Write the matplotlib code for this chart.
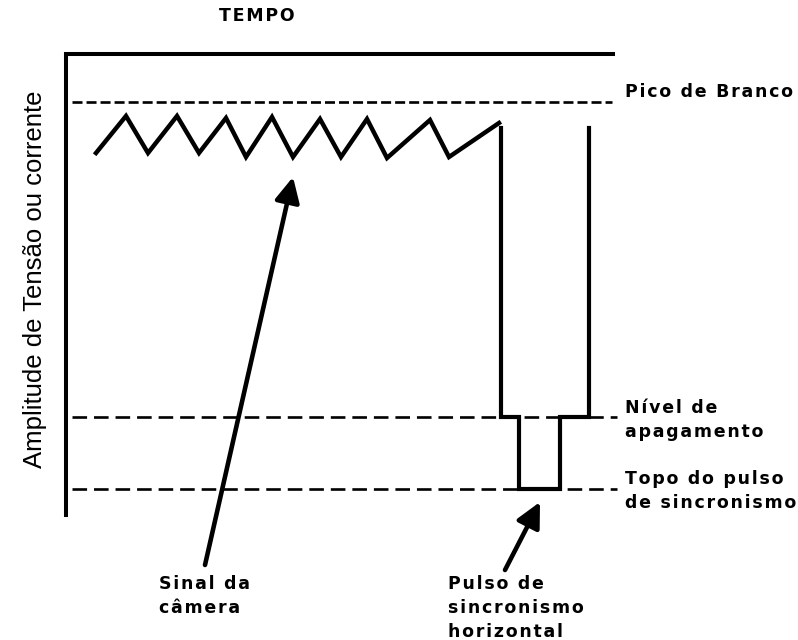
import matplotlib
matplotlib.use("Agg")
import matplotlib.pyplot as plt

# niveles (coordenadas de la imagen, y hacia abajo)
nivel_pico = 102
nivel_apagamento = 417
nivel_sincronismo = 489

# marco (eje de tiempo arriba, eje de amplitud a la izquierda)
marco_x = [613, 66, 66]
marco_y = [54, 54, 515]

# señal de la cámara (diente de sierra)
sinal_x = [96, 126, 148, 177, 199, 226, 246, 272, 293, 320, 341, 367, 387, 430, 449, 499]
sinal_y = [153, 116, 153, 116, 153, 118, 157, 117, 157, 119, 157, 119, 158, 120, 157, 123]

# pulso de sincronismo horizontal
pulso_x = [501, 501, 519, 519, 560, 560, 589, 589]
pulso_y = [128, 417, 417, 489, 489, 417, 417, 128]

# flechas: (cola, punta)
seta_sinal = ((205, 565), (293, 177))
seta_pulso = ((505, 570), (540, 502))


def espaciado(s):
    # el original tiene letras algo separadas: metemos un espacio "hair" entre letras
    return '\n'.join('\u200a'.join(linea) for linea in s.split('\n'))


fig = plt.figure(figsize=(7.98, 6.4), dpi=100)
ax = fig.add_axes([0, 0, 1, 1])
ax.set_xlim(0, 798)
ax.set_ylim(640, 0)
ax.axis('off')

plt.rcParams['lines.scale_dashes'] = False

ax.plot(marco_x, marco_y, color='black', lw=2.9, solid_joinstyle='miter')

ax.plot([72, 612], [nivel_pico, nivel_pico], color='black', lw=1.9, dashes=(7.2, 2.9))
ax.plot([72, 617], [nivel_apagamento, nivel_apagamento], color='black', lw=1.9, dashes=(10.5, 5))
ax.plot([72, 617], [nivel_sincronismo, nivel_sincronismo], color='black', lw=1.9, dashes=(10.5, 5))

ax.plot(sinal_x, sinal_y, color='black', lw=3.2, solid_joinstyle='miter')
ax.plot(pulso_x, pulso_y, color='black', lw=3.0, solid_joinstyle='miter')

for cola, punta in (seta_sinal, seta_pulso):
    ax.annotate('', xy=punta, xytext=cola,
                arrowprops=dict(arrowstyle='-|>,head_length=1.5,head_width=0.75',
                                mutation_scale=10, color='black', lw=3.3,
                                shrinkA=0, shrinkB=0))

bold = dict(family='DejaVu Sans', fontweight='bold', fontsize=12.5, color='black')

ax.text(257, 16, espaciado('TEMPO'), ha='center', va='center', **bold)
ax.text(625, 92, espaciado('Pico de Branco'), ha='left', va='center', **bold)
ax.text(625, 399, espaciado('Nível de\napagamento'), ha='left', va='top', linespacing=1.42, **bold)
ax.text(625, 470, espaciado('Topo do pulso\nde sincronismo'), ha='left', va='top', linespacing=1.42, **bold)
ax.text(159, 575, espaciado('Sinal da\ncâmera'), ha='left', va='top', linespacing=1.42, **bold)
ax.text(448, 575, espaciado('Pulso de\nsincronismo\nhorizontal'), ha='left', va='top', linespacing=1.42, **bold)

ax.text(35, 279, 'Amplitude de Tensão ou corrente', rotation=90, ha='center', va='center',
        family='Liberation Sans', fontsize=18.5, color='black')

fig.savefig('out.png', dpi=100, facecolor='white')
